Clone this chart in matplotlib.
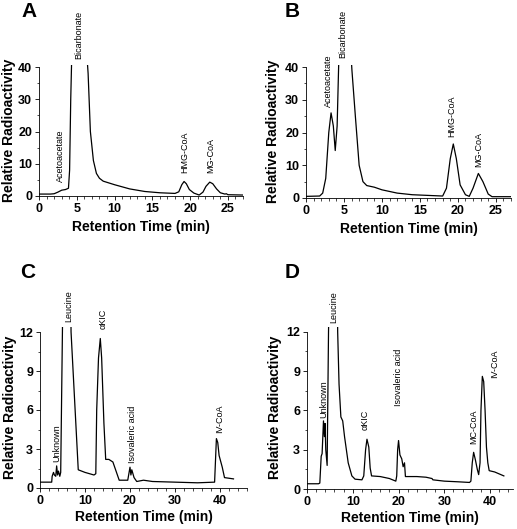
import matplotlib
matplotlib.use('Agg')
import matplotlib.pyplot as plt
from matplotlib.ticker import MultipleLocator

plt.rcParams['font.family'] = ['Liberation Sans', 'DejaVu Sans']

# Panel A: 3-hydroxybutyrate / HMG-CoA run
a_time = [0, 1.5, 2.0, 2.5, 3.0, 3.5, 3.9, 4.05, 4.2, 4.35, 6.3, 6.5, 6.8, 7.2, 7.6, 8.0, 8.5,
          10, 12, 14, 16, 18, 18.5, 18.9, 19.2, 19.5, 19.9, 20.5, 21.2, 21.7, 22.1, 22.6,
          23.0, 23.5, 24.0, 24.6, 24.8, 25.0, 27]
a_val = [0.6, 0.6, 0.7, 1.2, 1.8, 2.0, 2.4, 8, 30, 45, 45, 38, 20, 11, 7, 5.5, 4.6,
         3.5, 2.2, 1.4, 1.0, 0.8, 1.3, 3.5, 4.5, 3.8, 2.0, 0.9, 0.3, 1.2, 3.0, 4.3,
         3.8, 2.2, 1.0, 0.6, 0.7, 0.4, 0.3]
a_labels = ['Acetoacetate', 'Bicarbonate', 'HMG-CoA', 'MG-CoA']
a_lab_x = [2.8, 5.2, 19.3, 22.7]
a_lab_y = [4.3, 42.5, 7.1, 7.1]

# Panel B
b_time = [0, 1.8, 2.2, 2.6, 3.0, 3.3, 3.6, 3.85, 4.1, 4.35, 5.9, 6.05, 6.5, 7.0, 7.5, 8.0, 9.0,
          10, 12, 14, 16, 18, 18.5, 19.0, 19.4, 19.8, 20.3, 21.0, 21.5, 22.0, 22.7, 23.3,
          24.0, 24.5, 27]
b_val = [0.5, 0.6, 1.5, 6, 20, 26, 22, 14.5, 22, 45, 45, 39, 25, 10, 5, 3.8, 3.3,
         2.5, 1.5, 1.0, 0.8, 0.6, 3, 12, 16.5, 12, 4, 1.0, 0.5, 3, 7.5, 5,
         1.2, 0.4, 0.4]
b_labels = ['Acetoacetate', 'Bicarbonate', 'HMG-CoA', 'MG-CoA']
b_lab_x = [3.0, 4.9, 19.2, 22.8]
b_lab_y = [27.8, 42.7, 18.6, 9.5]

# Panel C: leucine run
c_time = [0, 2.6, 2.7, 3.0, 3.2, 3.5, 3.7, 3.9, 4.1, 4.4, 4.6, 5.0, 5.2, 6.8, 6.9, 8.5,
          10, 12, 12.4, 12.6, 13.0, 13.4, 13.7, 14.2, 14.6, 15.3, 16.2, 17.0, 17.6,
          19.5, 20.0, 20.2, 20.4, 20.9, 21.5, 23, 25, 30, 35, 38.8, 39.2, 39.5, 39.8,
          40.5, 41, 43]
c_val = [0.45, 0.45, 0.9, 1.2, 1.0, 0.9, 1.7, 1.0, 1.3, 0.9, 1.2, 12.5, 16, 16, 12, 1.4,
         1.2, 1.0, 1.1, 6, 10, 11.5, 10, 5, 2.2, 2.2, 2.0, 1.2, 0.6,
         0.6, 1.6, 1.0, 1.4, 0.8, 0.5, 0.6, 0.5, 0.45, 0.4, 0.45, 3.8, 3.5, 2.5,
         1.6, 0.8, 0.7]
c_labels = ['Unknown', 'Leucine', 'αKIC', 'Isovaleric acid', 'IV-CoA']
c_lab_x = [3.8, 6.3, 14.0, 20.6, 40.0]
c_lab_y = [2.0, 12.8, 12.2, 1.9, 4.2]

# Panel D
d_time = [0, 2.5, 2.8, 3.1, 3.3, 3.6, 3.8, 3.95, 4.1, 4.4, 4.7, 4.9, 6.6, 6.7, 7.0, 7.4,
          7.8, 8.2, 9.0, 9.8, 10.5, 12, 12.4, 12.8, 13.1, 13.5, 13.8, 14.1, 16, 18,
          19.4, 19.6, 19.8, 20.0, 20.3, 20.7, 21.0, 21.3, 21.5, 24, 26, 27.3, 27.5,
          30, 33, 35.5, 35.8, 36.1, 36.4, 36.8, 37.2, 37.5, 37.8, 38.0, 38.3, 38.6,
          38.9, 39.2, 39.5, 39.8, 41, 43]
d_val = [0.4, 0.4, 0.45, 2.5, 2.7, 5.2, 4.0, 5.0, 3.0, 1.8, 12, 16, 16, 12, 8, 5.5,
         5.2, 4.0, 2.0, 1.0, 0.75, 0.7, 1.0, 3.0, 3.8, 3.2, 1.6, 1.0, 0.95, 0.8,
         0.6, 1.0, 3.0, 3.7, 2.6, 2.3, 1.7, 2.0, 0.95, 0.95, 0.9, 0.8, 0.7,
         0.6, 0.55, 0.5, 0.6, 2.0, 2.8, 2.2, 1.5, 1.1, 2.0, 6.0, 8.6, 8.2,
         6.0, 3.2, 2.0, 1.4, 1.3, 1.0]
d_labels = ['Unknown', 'Leucine', 'αKIC', 'Isovaleric acid', 'MC-CoA', 'IV-CoA']
d_lab_x = [3.7, 5.9, 12.7, 20.0, 36.4, 41.0]
d_lab_y = [5.4, 12.7, 4.5, 6.3, 3.4, 8.5]

W, H = 517, 529
fig = plt.figure(figsize=(W / 100, H / 100), dpi=100)

panels = [
    # letter, time, values, labels, label x, label y, axes rect (px), letter pos (px), xlim, ylim,
    # top y tick, y major, y minor, x major, x minor, ylabel offset, xlabel offset (px)
    ('A', a_time, a_val, a_labels, a_lab_x, a_lab_y, (39, 196, 243, 65.4), (21, 2), 27, 40.5, 40, 10, 5, 5, 1, 30, 31),
    ('B', b_time, b_val, b_labels, b_lab_x, b_lab_y, (306, 198, 511, 65.4), (285, 2), 27, 40.5, 40, 10, 5, 5, 1, 33, 31),
    ('C', c_time, c_val, c_labels, c_lab_x, c_lab_y, (40, 488, 247, 326.8), (20, 263), 46, 12.4, 12, 3, 1.5, 10, 2, 30, 29),
    ('D', d_time, d_val, d_labels, d_lab_x, d_lab_y, (307, 489, 513, 326.6), (285, 263), 45, 12.4, 12, 3, 1.5, 10, 2, 32, 29),
]

for (letter, t, v, labs, lx, ly, rect, lpos, xmax, ytop, ymaxtick, ymaj, ymin, xmaj, xmin,
     yoff, xoff) in panels:
    x0, y0, x1, y1 = rect
    w_px, h_px = x1 - x0, y0 - y1
    ax = fig.add_axes([x0 / W, 1 - y0 / H, w_px / W, h_px / H])
    ax.plot(t, v, color='black', lw=0.9)
    ax.set_xlim(0, xmax)
    ax.set_ylim(0, ytop)
    ax.spines['top'].set_visible(False)
    ax.spines['right'].set_visible(False)
    ax.spines['left'].set_bounds(0, ymaxtick)
    ax.spines['left'].set_linewidth(0.6)
    ax.spines['bottom'].set_linewidth(0.6)
    ax.xaxis.set_major_locator(MultipleLocator(xmaj))
    ax.xaxis.set_minor_locator(MultipleLocator(xmin))
    ax.yaxis.set_minor_locator(MultipleLocator(ymin))
    ax.set_yticks([k * ymaj for k in range(int(ymaxtick / ymaj) + 1)])
    ax.tick_params(which='major', direction='out', length=3, width=0.6, labelsize=9, pad=2)
    ax.tick_params(which='minor', direction='out', length=1.8, width=0.5)
    for lbl in ax.get_xticklabels() + ax.get_yticklabels():
        lbl.set_fontweight('bold')
    ax.set_xlabel('Retention Time (min)', fontsize=10, fontweight='bold', va='center')
    ax.set_ylabel('Relative Radioactivity', fontsize=10, fontweight='bold', va='center')
    ax.xaxis.set_label_coords(0.5, -xoff / h_px)
    ax.yaxis.set_label_coords(-yoff / w_px, 0.5)
    for name, x, y in zip(labs, lx, ly):
        ax.text(x, y, name, rotation=90, ha='center', va='bottom', fontsize=6.5,
                clip_on=False)
    fig.text(lpos[0] / W, 1 - lpos[1] / H, letter, fontsize=15, fontweight='bold',
             va='top', ha='left')

fig.savefig('out.png', dpi=100)
